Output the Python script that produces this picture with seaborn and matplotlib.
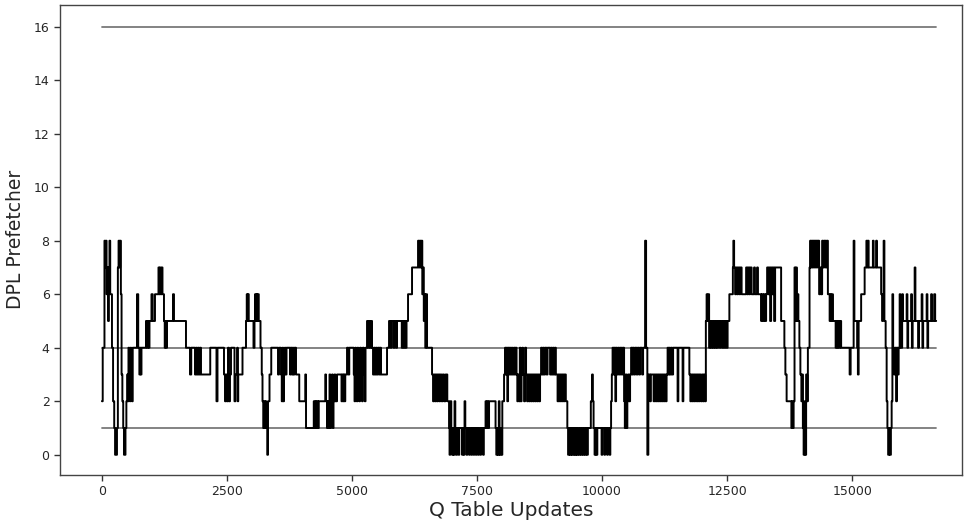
import matplotlib
matplotlib.use("Agg")
import matplotlib.pyplot as plt
import seaborn as sns
import pandas as pd
import numpy as np

# Change points of the DPL prefetcher degree (x = Q table update index, y = level)
step_x = [
    0, 15, 50, 62, 78, 92, 108, 122, 138, 150, 165, 200, 222, 245, 262, 300, 318, 332, 348, 362,
    378, 392, 408, 425, 440, 470, 488, 505, 518, 530, 545, 558, 570, 585, 600, 615, 700, 725, 748, 762,
    775, 790, 880, 900, 918, 935, 950, 990, 1015, 1060, 1130, 1145, 1160, 1175, 1195, 1210, 1240, 1255, 1268, 1285,
    1300, 1420, 1440, 1680, 1760, 1785, 1860, 1880, 1900, 1920, 1940, 1960, 1980, 2165, 2290, 2310, 2440, 2460, 2480, 2500,
    2520, 2540, 2560, 2580, 2650, 2670, 2690, 2705, 2715, 2725, 2810, 2880, 2895, 2910, 2920, 2935, 3030, 3050, 3060, 3075,
    3090, 3105, 3115, 3135, 3170, 3195, 3210, 3225, 3240, 3255, 3270, 3285, 3305, 3320, 3350, 3385, 3520, 3540, 3580, 3595,
    3610, 3625, 3640, 3655, 3670, 3690, 3760, 3775, 3800, 3815, 3830, 3850, 3880, 3945, 4065, 4080, 4235, 4255, 4270, 4290,
    4305, 4320, 4335, 4465, 4480, 4500, 4515, 4535, 4550, 4565, 4580, 4600, 4615, 4630, 4650, 4665, 4700, 4790, 4805, 4820,
    4835, 4850, 4865, 4900, 4925, 4945, 5035, 5050, 5065, 5080, 5095, 5110, 5125, 5145, 5160, 5180, 5200, 5215, 5235, 5255,
    5270, 5300, 5320, 5340, 5360, 5385, 5400, 5420, 5440, 5460, 5480, 5500, 5520, 5545, 5560, 5580, 5700, 5740, 5770, 5790,
    5830, 5850, 5880, 5900, 5995, 6010, 6030, 6050, 6070, 6090, 6120, 6200, 6320, 6340, 6355, 6375, 6390, 6405, 6420, 6435,
    6450, 6465, 6480, 6500, 6600, 6620, 6640, 6660, 6680, 6700, 6720, 6745, 6765, 6790, 6815, 6840, 6870, 6905, 6940, 6950,
    6965, 6985, 7000, 7015, 7030, 7050, 7065, 7080, 7100, 7130, 7145, 7200, 7215, 7235, 7250, 7265, 7290, 7305, 7340, 7355,
    7385, 7400, 7430, 7445, 7475, 7490, 7520, 7535, 7565, 7580, 7620, 7635, 7670, 7690, 7705, 7720, 7740, 7870, 7885, 7900,
    7915, 7935, 7950, 7970, 7990, 8005, 8040, 8060, 8075, 8090, 8105, 8120, 8135, 8150, 8170, 8190, 8210, 8235, 8255, 8270,
    8290, 8305, 8320, 8340, 8355, 8370, 8390, 8405, 8420, 8440, 8460, 8480, 8500, 8520, 8540, 8560, 8580, 8600, 8620, 8640,
    8660, 8680, 8700, 8720, 8740, 8760, 8780, 8800, 8820, 8840, 8860, 8890, 8910, 8960, 8980, 9000, 9020, 9040, 9060, 9075,
    9110, 9130, 9150, 9170, 9190, 9210, 9230, 9250, 9275, 9305, 9320, 9340, 9355, 9375, 9390, 9410, 9430, 9450, 9465, 9485,
    9500, 9520, 9540, 9560, 9580, 9600, 9620, 9640, 9660, 9680, 9700, 9715, 9775, 9800, 9815, 9830, 9850, 9870, 9885, 9905,
    9990, 10005, 10045, 10060, 10100, 10115, 10150, 10165, 10180, 10195, 10210, 10230, 10245, 10265, 10280, 10300, 10320, 10345, 10365, 10390,
    10410, 10440, 10455, 10470, 10490, 10505, 10520, 10540, 10560, 10580, 10600, 10615, 10640, 10660, 10690, 10710, 10740, 10760, 10800, 10820,
    10860, 10880, 10905, 10925, 10960, 10975, 11030, 11050, 11070, 11090, 11110, 11130, 11150, 11170, 11190, 11210, 11230, 11250, 11270, 11290,
    11310, 11330, 11345, 11360, 11380, 11400, 11420, 11510, 11525, 11610, 11625, 11745, 11765, 11785, 11805, 11825, 11845, 11865, 11890, 11910,
    11930, 11950, 11975, 12000, 12020, 12040, 12060, 12075, 12090, 12105, 12125, 12140, 12160, 12180, 12200, 12220, 12240, 12260, 12280, 12300,
    12320, 12350, 12370, 12400, 12420, 12445, 12465, 12490, 12510, 12545, 12615, 12625, 12640, 12660, 12680, 12700, 12720, 12745, 12765, 12790,
    12880, 12900, 12920, 12940, 12960, 12990, 13040, 13055, 13100, 13115, 13180, 13195, 13215, 13235, 13260, 13280, 13300, 13320, 13340, 13360,
    13380, 13400, 13420, 13440, 13460, 13580, 13645, 13665, 13690, 13785, 13800, 13815, 13830, 13848, 13865, 13880, 13895, 13910, 13925, 13945,
    13965, 13985, 14000, 14015, 14030, 14050, 14065, 14080, 14100, 14115, 14148, 14160, 14175, 14190, 14210, 14225, 14250, 14265, 14290, 14305,
    14340, 14360, 14380, 14400, 14420, 14440, 14470, 14490, 14515, 14550, 14565, 14580, 14600, 14615, 14670, 14690, 14705, 14720, 14740, 14760,
    14780, 14950, 14970, 15030, 15045, 15100, 15115, 15130, 15180, 15250, 15285, 15300, 15315, 15330, 15415, 15430, 15480, 15495, 15580, 15600,
    15615, 15630, 15645, 15670, 15690, 15705, 15720, 15740, 15755, 15775, 15790, 15805, 15820, 15840, 15860, 15880, 15895, 15915, 15930, 15950,
    15965, 16000, 16015, 16090, 16105, 16120, 16180, 16195, 16210, 16250, 16265, 16320, 16335, 16390, 16405, 16420, 16490, 16505, 16520, 16580,
    16595, 16640, 16660, 16680,
]
step_y = [
    2, 4, 8, 7, 8, 6, 7, 5, 7, 8, 6, 4, 2, 1, 0, 1, 7, 8, 7, 8,
    6, 3, 2, 1, 0, 1, 2, 3, 2, 4, 3, 2, 4, 3, 2, 4, 6, 4, 3, 4,
    3, 4, 5, 4, 5, 4, 5, 6, 5, 6, 7, 6, 7, 6, 7, 6, 5, 4, 5, 4,
    5, 6, 5, 4, 3, 4, 3, 4, 3, 4, 3, 4, 3, 4, 2, 4, 3, 2, 3, 2,
    4, 2, 3, 4, 2, 3, 3, 4, 2, 3, 4, 5, 6, 5, 6, 5, 4, 5, 6, 5,
    6, 5, 6, 5, 4, 3, 2, 1, 2, 1, 2, 1, 0, 2, 3, 4, 3, 4, 3, 2,
    4, 2, 3, 4, 3, 4, 3, 4, 3, 4, 3, 4, 3, 2, 3, 1, 2, 1, 2, 1,
    2, 1, 2, 3, 2, 1, 2, 1, 3, 1, 2, 3, 1, 2, 3, 2, 3, 2, 3, 2,
    3, 2, 3, 4, 3, 4, 3, 2, 4, 3, 2, 4, 3, 2, 4, 3, 2, 4, 3, 2,
    4, 5, 4, 5, 4, 5, 4, 3, 4, 3, 4, 3, 4, 3, 4, 3, 4, 5, 4, 5,
    4, 5, 4, 5, 4, 5, 4, 5, 4, 5, 6, 7, 8, 7, 8, 7, 8, 6, 7, 5,
    6, 4, 6, 4, 3, 2, 3, 2, 3, 2, 3, 2, 3, 2, 3, 2, 3, 2, 1, 0,
    2, 1, 0, 1, 0, 2, 1, 0, 1, 0, 1, 0, 1, 0, 2, 1, 0, 1, 0, 1,
    0, 1, 0, 1, 0, 1, 0, 1, 0, 1, 0, 1, 2, 1, 2, 1, 2, 1, 0, 1,
    0, 2, 0, 1, 0, 2, 3, 4, 3, 4, 2, 4, 3, 4, 3, 4, 3, 4, 3, 4,
    3, 2, 3, 2, 4, 2, 3, 4, 3, 2, 4, 3, 2, 3, 2, 3, 2, 3, 2, 3,
    2, 3, 2, 3, 2, 3, 4, 3, 4, 3, 4, 3, 4, 3, 4, 3, 4, 3, 4, 3,
    2, 3, 2, 3, 2, 3, 2, 3, 2, 1, 0, 1, 0, 1, 0, 1, 0, 1, 0, 1,
    0, 1, 0, 1, 0, 1, 0, 1, 0, 1, 0, 1, 2, 3, 2, 1, 0, 1, 0, 1,
    0, 1, 0, 1, 0, 1, 0, 1, 2, 3, 4, 3, 4, 2, 4, 3, 4, 3, 4, 3,
    4, 2, 1, 3, 1, 2, 3, 2, 3, 4, 3, 4, 3, 4, 3, 4, 3, 4, 3, 4,
    8, 4, 0, 3, 2, 3, 2, 3, 2, 3, 2, 3, 2, 3, 2, 3, 2, 3, 2, 3,
    4, 3, 4, 3, 4, 3, 4, 2, 4, 2, 4, 3, 2, 3, 2, 3, 2, 3, 2, 3,
    2, 3, 2, 3, 2, 3, 2, 5, 6, 5, 6, 4, 5, 4, 5, 4, 5, 4, 5, 4,
    5, 4, 5, 4, 5, 4, 5, 4, 5, 6, 7, 8, 7, 6, 7, 6, 7, 6, 7, 6,
    7, 6, 7, 6, 7, 6, 7, 6, 7, 6, 5, 6, 5, 6, 5, 6, 7, 6, 7, 5,
    7, 6, 7, 5, 7, 5, 4, 3, 2, 1, 2, 1, 2, 7, 5, 7, 5, 6, 5, 4,
    3, 2, 3, 1, 0, 2, 0, 3, 2, 4, 7, 8, 7, 8, 7, 8, 7, 8, 7, 8,
    6, 7, 6, 8, 7, 8, 7, 8, 6, 5, 6, 5, 6, 5, 4, 5, 4, 5, 4, 5,
    4, 3, 4, 8, 5, 4, 3, 5, 6, 7, 8, 7, 8, 7, 8, 7, 8, 7, 6, 5,
    6, 8, 5, 4, 2, 1, 0, 1, 0, 1, 2, 6, 4, 3, 4, 2, 4, 3, 4, 6,
    4, 6, 5, 6, 4, 5, 6, 4, 5, 7, 5, 4, 5, 6, 4, 5, 6, 4, 5, 6,
    5, 6, 5, 5,
]

threshold_levels = [16, 4, 1]
x_ticks = [0, 2500, 5000, 7500, 10000, 12500, 15000]
y_ticks = [0, 2, 4, 6, 8, 10, 12, 14, 16]

df = pd.DataFrame({"Q Table Updates": step_x, "DPL Prefetcher": step_y})

sns.set_style("ticks")
plt.rcParams["font.family"] = ["DejaVu Sans"]

fig = plt.figure(figsize=(9.67, 5.27), dpi=100)
ax = fig.add_axes([0.062, 0.099, 0.933, 0.892])

x_end = step_x[-1]
for lvl in threshold_levels:
    ax.plot([step_x[0], x_end], [lvl, lvl], color="#7a7a7a", linewidth=1.3, zorder=1)

sns.lineplot(data=df, x="Q Table Updates", y="DPL Prefetcher", ax=ax,
             drawstyle="steps-post", color="black", linewidth=1.4,
             estimator=None, sort=False, zorder=2)

ax.set_xlim(-840, 17200)
ax.set_ylim(-0.75, 16.82)
ax.set_xticks(x_ticks)
ax.set_yticks(y_ticks)
ax.tick_params(axis="both", labelsize=9, length=4, width=1, color="#333333")
ax.set_xlabel("Q Table Updates", fontsize=14.5, labelpad=2)
ax.set_ylabel("DPL Prefetcher", fontsize=13.5, labelpad=6)
for sp in ax.spines.values():
    sp.set_visible(True)
    sp.set_color("#444444")
    sp.set_linewidth(1.0)

fig.savefig("out.png", dpi=100)
